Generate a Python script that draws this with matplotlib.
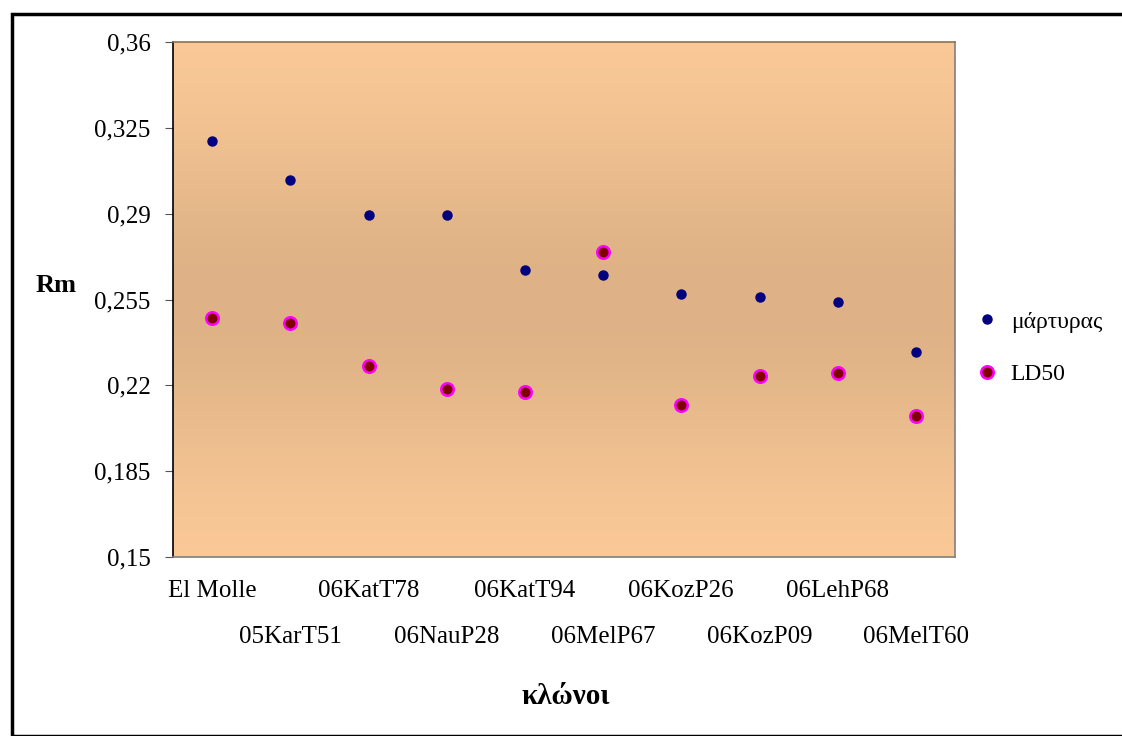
import numpy as np
import matplotlib.pyplot as plt
from matplotlib.patches import Rectangle

plt.rcParams['font.family'] = ['Liberation Serif', 'DejaVu Serif']

clones = ["El Molle", "05KarT51", "06KatT78", "06NauP28", "06KatT94",
          "06MelP67", "06KozP26", "06KozP09", "06LehP68", "06MelT60"]
martyras = [0.3196, 0.3037, 0.2894, 0.2894, 0.267, 0.265, 0.2572, 0.256, 0.254, 0.2336]
ld50 = [0.2474, 0.2454, 0.2279, 0.2185, 0.2173, 0.2744, 0.212, 0.2238, 0.225, 0.2075]
yticks = [0.15, 0.185, 0.22, 0.255, 0.29, 0.325, 0.36]

fig = plt.figure(figsize=(11.22, 7.36), dpi=100)
ax = fig.add_axes([173/1122, 1 - 557/736, 782/1122, 515/736])

# gradient background: light at top and bottom, darker in the middle
t = np.linspace(0, 1, 256)
w = np.exp(-((t - 0.5) / 0.35) ** 2)
top = np.array([254, 204, 153]) / 255
mid = np.array([222, 178, 134]) / 255
grad = top[None, :] * (1 - w[:, None]) + mid[None, :] * w[:, None]
ax.imshow(grad[:, None, :], extent=[0, 10, 0.15, 0.36], aspect='auto', zorder=0)

x = np.arange(len(clones)) + 0.5
ax.plot(x, martyras, 'o', color='#000080', markersize=6.5, linestyle='none',
        label='μάρτυρας', zorder=3)
ax.plot(x, ld50, 'o', color='#800000', markeredgecolor='#FF00FF', markeredgewidth=1.8,
        markersize=9, linestyle='none', label='LD50', zorder=3)

ax.set_xlim(0, 10)
ax.set_ylim(0.15, 0.36)
ax.set_yticks(yticks)
ax.set_yticklabels([str(v).replace('.', ',') for v in yticks], fontsize=18)
ax.tick_params(axis='y', direction='out', length=6, pad=10, color='#555555')

# staggered category labels: even ones as major ticks, odd ones as minor ticks lower down
ax.set_xticks(x[::2])
ax.set_xticklabels(clones[::2], fontsize=18)
ax.set_xticks(x[1::2], minor=True)
ax.set_xticklabels(clones[1::2], minor=True, fontsize=18)
ax.tick_params(axis='x', which='major', length=0, pad=16.5)
ax.tick_params(axis='x', which='minor', length=0, pad=50)

ax.spines['left'].set_color('black')
ax.spines['bottom'].set_color('#808080')
ax.spines['top'].set_color('#8B7355')
ax.spines['right'].set_color('#808080')
for s in ax.spines.values():
    s.set_linewidth(1.2)

fig.text(566/1122, 1 - 697/736, 'κλώνοι', fontsize=21, fontweight='bold',
         ha='center', va='center')
fig.text(56/1122, 1 - 286/736, 'Rm', fontsize=19, fontweight='bold',
         ha='center', va='center')

fig.legend(loc='center left', bbox_to_anchor=(954/1122, 1 - 348/736), frameon=False,
           fontsize=17, handletextpad=0.5, labelspacing=1.3, handlelength=1.0)

fig.patches.append(Rectangle((12/1122, 0), 1.2, 1 - 14/736, transform=fig.transFigure,
                             fill=False, edgecolor='black', linewidth=2.5))

fig.savefig('out.png', dpi=100)
